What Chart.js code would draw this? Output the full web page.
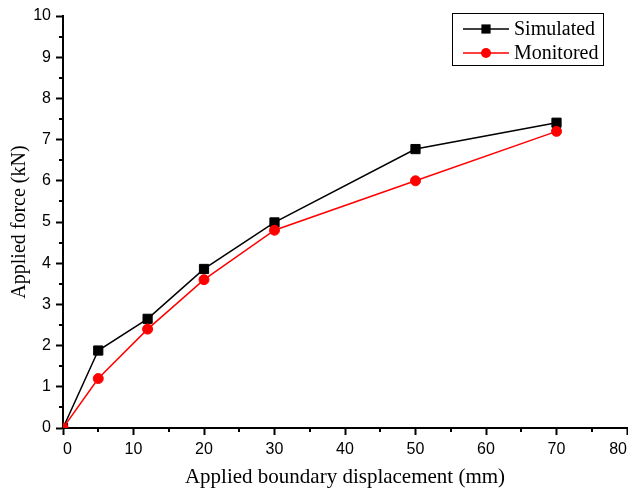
<!DOCTYPE html>
<html>
<head>
<meta charset="utf-8">
<script src="https://cdn.jsdelivr.net/npm/chart.js@4"></script>
<style>
  html, body { margin: 0; padding: 0; background: #fff; overflow: hidden; }
  #wrap { width: 628px; height: 488px; position: relative; }
</style>
</head>
<body>
<div id="wrap"><canvas id="myChart" width="628" height="488"></canvas></div>
<script>
'use strict';

// ***** DATA *****
const displacement = [0, 5, 12, 20, 30, 50, 70];
const simulated = [0, 1.88, 2.65, 3.86, 4.99, 6.77, 7.41];
const monitored = [0, 1.2, 2.4, 3.6, 4.8, 6.0, 7.2];
const seriesNames = ['Simulated', 'Monitored'];
const xTicks = [0, 10, 20, 30, 40, 50, 60, 70, 80];
const yTicks = [0, 1, 2, 3, 4, 5, 6, 7, 8, 9, 10];

const serif = '"Liberation Serif", "Times New Roman", serif';
const sans = '"Liberation Sans", Arial, sans-serif';

function toPoints(xs, ys) {
  let pts = [];
  for (let i = 0; i < xs.length; i++) {
    pts.push({ x: xs[i], y: ys[i] });
  }
  return pts;
}

// minor ticks halfway between the major ones
const minorTicks = {
  id: 'minorTicks',
  afterDraw(chart) {
    const ctx = chart.ctx;
    const xs = chart.scales.x;
    const ys = chart.scales.y;
    ctx.save();
    ctx.strokeStyle = '#000';
    ctx.lineWidth = 2;
    ctx.beginPath();
    for (let v = 5; v < 80; v += 10) {
      const px = Math.round(xs.getPixelForValue(v));
      ctx.moveTo(px, ys.bottom);
      ctx.lineTo(px, ys.bottom + 4);
    }
    for (let v = 0.5; v < 10; v += 1) {
      const py = Math.round(ys.getPixelForValue(v));
      ctx.moveTo(xs.left, py);
      ctx.lineTo(xs.left - 4, py);
    }
    ctx.stroke();
    ctx.restore();
  }
};

// boxed legend in the top right corner
const boxLegend = {
  id: 'boxLegend',
  afterDraw(chart) {
    const ctx = chart.ctx;
    ctx.save();
    ctx.strokeStyle = '#000';
    ctx.lineWidth = 1;
    ctx.strokeRect(452.5, 13.5, 151, 52);
    const rowY = [29, 53];
    chart.data.datasets.forEach(function (ds, i) {
      const y = rowY[i];
      ctx.strokeStyle = ds.borderColor;
      ctx.lineWidth = ds.borderWidth;
      ctx.beginPath();
      ctx.moveTo(463, y);
      ctx.lineTo(509, y);
      ctx.stroke();
      ctx.fillStyle = ds.backgroundColor;
      Chart.helpers.drawPoint(ctx, {
        pointStyle: ds.pointStyle,
        radius: ds.pointRadius,
        borderWidth: 0
      }, 486, y);
      ctx.fillStyle = '#000';
      ctx.font = '20px ' + serif;
      ctx.textBaseline = 'middle';
      ctx.fillText(ds.label, 514, y + 1);
    });
    ctx.restore();
  }
};

const ctx = document.getElementById('myChart').getContext('2d');

const chartObj = {
  type: 'line',
  data: {
    datasets: [
      {
        label: seriesNames[0],
        data: toPoints(displacement, simulated),
        borderColor: '#000',
        backgroundColor: '#000',
        borderWidth: 1.5,
        pointStyle: 'rect',
        pointRadius: 6.5,
        pointBorderWidth: 1,
        pointBorderColor: '#000',
        order: 1
      },
      {
        label: seriesNames[1],
        data: toPoints(displacement, monitored),
        borderColor: '#ff0000',
        backgroundColor: '#ff0000',
        borderWidth: 1.5,
        pointStyle: 'circle',
        pointRadius: 5,
        pointBorderWidth: 1,
        pointBorderColor: '#ff0000',
        order: 0
      }
    ]
  },
  options: {
    responsive: false,
    animation: false,
    layout: { autoPadding: false, padding: { top: 16, right: 1, left: 0, bottom: 0 } },
    plugins: {
      legend: { display: false },
      tooltip: { enabled: false }
    },
    scales: {
      x: {
        type: 'linear',
        min: 0,
        max: 80,
        afterBuildTicks: function (scale) {
          scale.ticks = xTicks.map(function (v) { return { value: v }; });
        },
        afterFit: function (scale) {
          scale.height = 60;
          scale.paddingLeft = 0;
          scale.paddingRight = 0;
        },
        border: { color: '#000', width: 2 },
        grid: {
          drawOnChartArea: false,
          drawTicks: true,
          tickLength: 7,
          tickWidth: 2,
          tickColor: '#000'
        },
        ticks: {
          align: 'inner',
          color: '#000',
          padding: 5,
          maxRotation: 0,
          font: { family: sans, size: 16 }
        },
        title: {
          display: true,
          text: 'Applied boundary displacement (mm)',
          color: '#000',
          font: { family: serif, size: 21 },
          padding: { top: 0, bottom: -2 }
        }
      },
      y: {
        type: 'linear',
        min: 0,
        max: 10,
        afterBuildTicks: function (scale) {
          scale.ticks = yTicks.map(function (v) { return { value: v }; });
        },
        afterFit: function (scale) {
          scale.width = 63;
        },
        border: { color: '#000', width: 2 },
        grid: {
          drawOnChartArea: false,
          drawTicks: true,
          tickLength: 7,
          tickWidth: 2,
          tickColor: '#000'
        },
        ticks: {
          color: '#000',
          padding: 5,
          font: { family: sans, size: 16 }
        },
        title: {
          display: true,
          text: 'Applied force (kN)',
          color: '#000',
          font: { family: serif, size: 20 },
          padding: { top: 8, bottom: 4 }
        }
      }
    }
  },
  plugins: [minorTicks, boxLegend]
};

const myChart = new Chart(ctx, chartObj);
</script>
</body>
</html>
